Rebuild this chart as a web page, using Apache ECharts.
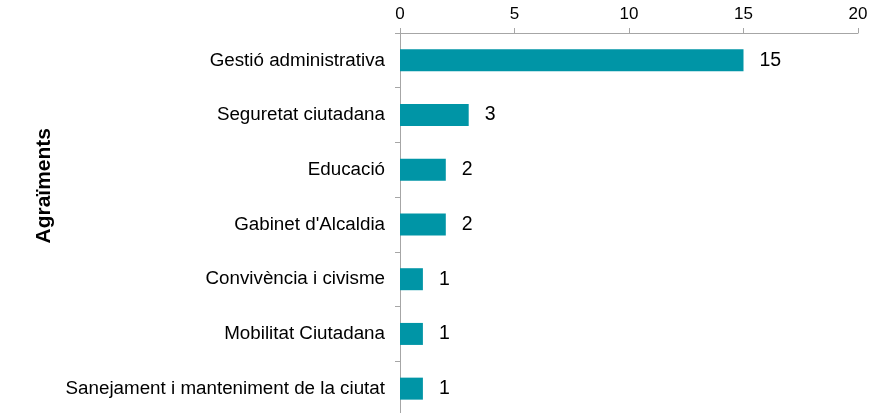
<!DOCTYPE html>
<html>
<head>
<meta charset="utf-8">
<script src="https://cdn.jsdelivr.net/npm/echarts@6/dist/echarts.min.js"></script>
<style>
  html, body { margin: 0; padding: 0; background: #fff; overflow: hidden; }
  /* le graphique déborde un peu en bas, comme dans l'original */
  #chart { width: 890px; height: 416px; }
</style>
</head>
<body>
<div id="chart"></div>
<script>
// dades
const categories = [
    'Gestió administrativa',
    'Seguretat ciutadana',
    'Educació',
    "Gabinet d'Alcaldia",
    'Convivència i civisme',
    'Mobilitat Ciutadana',
    'Sanejament i manteniment de la ciutat'
];
const values = [15, 3, 2, 2, 1, 1, 1];
const axisName = 'Agraïments';

const chart = echarts.init(document.getElementById('chart'));

chart.setOption({
    animation: false,
    textStyle: { fontFamily: 'Liberation Sans, Arial, sans-serif' },
    grid: { left: 400, right: 32, top: 33, bottom: 0 },
    xAxis: {
        type: 'value',
        position: 'top',
        min: 0,
        max: 20,
        interval: 5,
        axisLine: { show: true, lineStyle: { color: '#a6a6a6', width: 1 } },
        axisTick: { show: true, length: 5, lineStyle: { color: '#a6a6a6' } },
        axisLabel: { color: '#000', fontSize: 17, margin: 10 },
        splitLine: { show: false }
    },
    yAxis: {
        type: 'category',
        inverse: true,
        data: categories,
        axisLine: { show: true, lineStyle: { color: '#a6a6a6', width: 1 } },
        axisTick: { show: true, length: 5, lineStyle: { color: '#a6a6a6' } },
        axisLabel: { color: '#000', fontSize: 18.8, margin: 15 }
    },
    graphic: [{
        type: 'text',
        left: 34,
        top: 128,
        rotation: Math.PI / 2,
        style: {
            text: axisName,
            fill: '#000',
            font: 'bold 21px Liberation Sans, Arial, sans-serif'
        }
    }],
    series: [{
        type: 'bar',
        data: values,
        barWidth: 22,
        itemStyle: { color: '#0095A6' },
        label: {
            show: true,
            position: 'right',
            distance: 16,
            color: '#000',
            fontSize: 19.5
        }
    }]
});
</script>
</body>
</html>
